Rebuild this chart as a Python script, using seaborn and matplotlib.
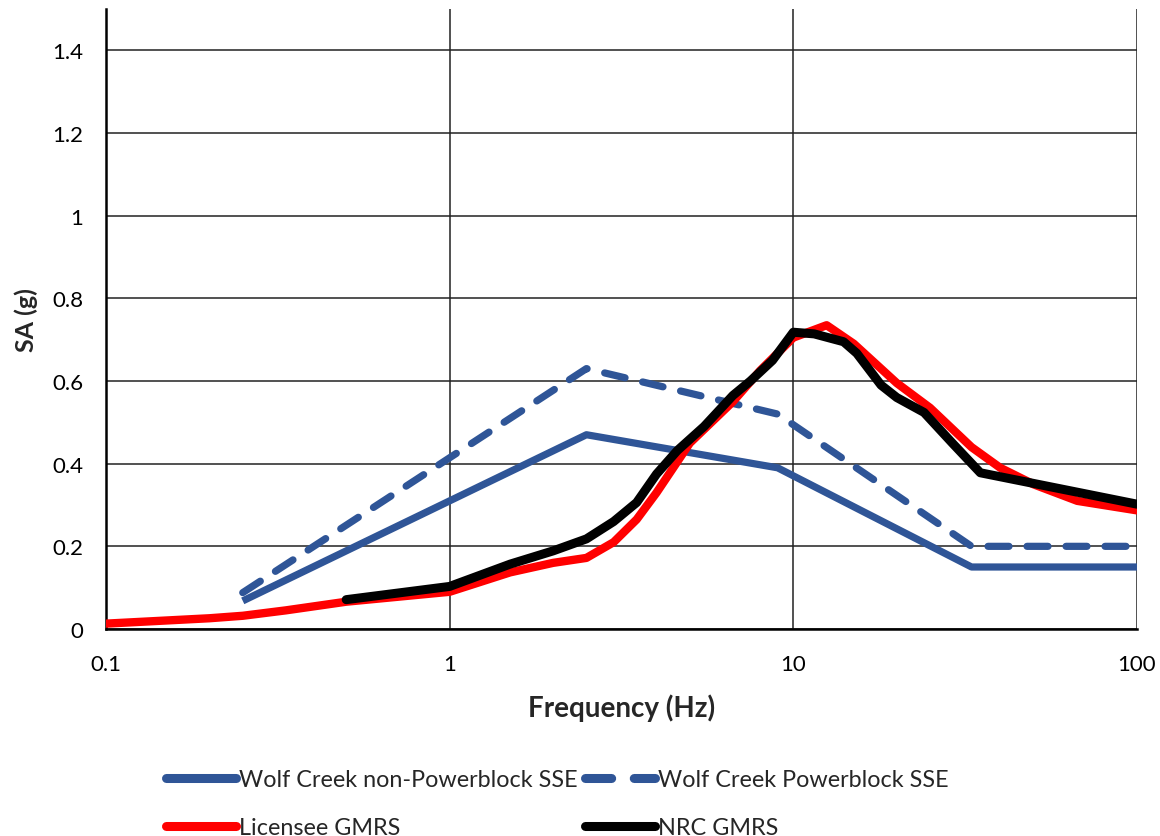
import matplotlib
matplotlib.use("Agg")
import matplotlib.pyplot as plt
import seaborn as sns
import numpy as np
from matplotlib.ticker import FixedLocator, MultipleLocator, LogLocator, NullFormatter

# ---- data ----
nonpb_freq = [0.25, 2.5, 9.0, 33.0, 100.0]
nonpb_sa = [0.068, 0.47, 0.39, 0.15, 0.15]

pb_freq = [0.25, 2.5, 9.0, 33.0, 100.0]
pb_sa = [0.088, 0.63, 0.52, 0.20, 0.20]

lic_freq = [0.1, 0.2, 0.25, 0.333, 0.5, 1.0, 1.5, 2.0, 2.5, 3.0, 3.5, 4.0, 5.0,
            6.67, 8.0, 10.0, 12.5, 15.0, 20.0, 25.0, 33.0, 40.0, 50.0, 67.0, 100.0]
lic_sa = [0.013, 0.026, 0.032, 0.045, 0.066, 0.09, 0.137, 0.16, 0.172, 0.21, 0.265,
          0.33, 0.45, 0.55, 0.625, 0.705, 0.735, 0.69, 0.595, 0.535, 0.44, 0.39,
          0.35, 0.31, 0.287]

nrc_freq = [0.5, 1.0, 1.5, 2.0, 2.5, 3.0, 3.5, 4.0, 4.6, 5.5, 6.67, 7.5, 8.7, 10.0,
            11.5, 14.0, 15.3, 18.0, 20.0, 24.0, 29.0, 35.0, 60.0, 100.0]
nrc_sa = [0.071, 0.103, 0.157, 0.189, 0.218, 0.26, 0.306, 0.375, 0.432, 0.49, 0.565,
          0.6, 0.65, 0.718, 0.714, 0.695, 0.667, 0.59, 0.56, 0.524, 0.45, 0.378,
          0.339, 0.302]

labels = ["Wolf Creek non-Powerblock SSE", "Wolf Creek Powerblock SSE",
          "Licensee GMRS", "NRC GMRS"]
y_ticks = [0, 0.2, 0.4, 0.6, 0.8, 1.0, 1.2, 1.4]
y_tick_labels = ["0", "0.2", "0.4", "0.6", "0.8", "1", "1.2", "1.4"]
x_ticks = [0.1, 1, 10, 100]
x_tick_labels = ["0.1", "1", "10", "100"]

sns.set_style("white")
plt.rcParams['font.family'] = ['Lato', 'DejaVu Sans']

fig = plt.figure(figsize=(11.6, 8.37), dpi=100)
ax = fig.add_axes([106/1160, 1 - 630/837, (1137-106)/1160, (630-10)/837])

blue = "#2F5597"
sns.lineplot(x=nonpb_freq, y=nonpb_sa, ax=ax, color=blue, lw=5.2,
             estimator=None, sort=False, label=labels[0],
             solid_capstyle="butt", solid_joinstyle="round", zorder=3)
sns.lineplot(x=pb_freq, y=pb_sa, ax=ax, color=blue, lw=5.2,
             estimator=None, sort=False, label=labels[1],
             dash_capstyle="round", zorder=3)
ax.lines[-1].set_linestyle((0, (2.9, 2.5)))
sns.lineplot(x=lic_freq, y=lic_sa, ax=ax, color="#FF0000", lw=6,
             estimator=None, sort=False, label=labels[2],
             solid_joinstyle="round", zorder=4)
sns.lineplot(x=nrc_freq, y=nrc_sa, ax=ax, color="black", lw=6.5,
             estimator=None, sort=False, label=labels[3],
             solid_capstyle="round", solid_joinstyle="round", zorder=5)

ax.set_xscale("log")
ax.set_xlim(0.1, 100)
ax.set_ylim(0, 1.5)

ax.xaxis.set_major_locator(FixedLocator(x_ticks))
ax.set_xticklabels(x_tick_labels)
ax.xaxis.set_minor_locator(LogLocator(base=10, subs=np.arange(2, 10)))
ax.xaxis.set_minor_formatter(NullFormatter())
ax.yaxis.set_major_locator(FixedLocator(y_ticks))
ax.set_yticklabels(y_tick_labels)
ax.yaxis.set_minor_locator(MultipleLocator(0.05))

ax.grid(True, which="major", color="#222222", lw=1.1)
ax.set_axisbelow(True)
for s in ["top", "right"]:
    ax.spines[s].set_visible(False)
for s in ["left", "bottom"]:
    ax.spines[s].set_color("black")
    ax.spines[s].set_linewidth(1.8)

ax.tick_params(axis="both", which="major", direction="inout", length=11, width=1.5,
               labelsize=16, colors="black")
ax.tick_params(axis="y", which="major", pad=11)
ax.tick_params(axis="both", which="minor", direction="in", length=5, width=1.2,
               colors="black")
ax.tick_params(axis="x", which="major", direction="out", length=7, pad=11)

ax.set_xlabel("Frequency (Hz)", fontsize=20, fontweight="bold", labelpad=14)
ax.set_ylabel("SA (g)", fontsize=18, fontweight="bold", labelpad=10)

ax.get_legend().remove()
handles, labs = ax.get_legend_handles_labels()
order = [0, 2, 1, 3]
leg = fig.legend([handles[i] for i in order], [labs[i] for i in order],
                 loc="upper left", bbox_to_anchor=(157/1160, 1 - 761/837),
                 ncol=2, frameon=False, fontsize=16.8, handlelength=3.0,
                 handletextpad=0.12, columnspacing=0.3, labelspacing=1.15,
                 borderaxespad=0)
for h in leg.legend_handles:
    h.set_linewidth(6.5)
    h.set_solid_capstyle("round")
    h.set_dash_capstyle("round")

fig.savefig("out.png", dpi=100)
